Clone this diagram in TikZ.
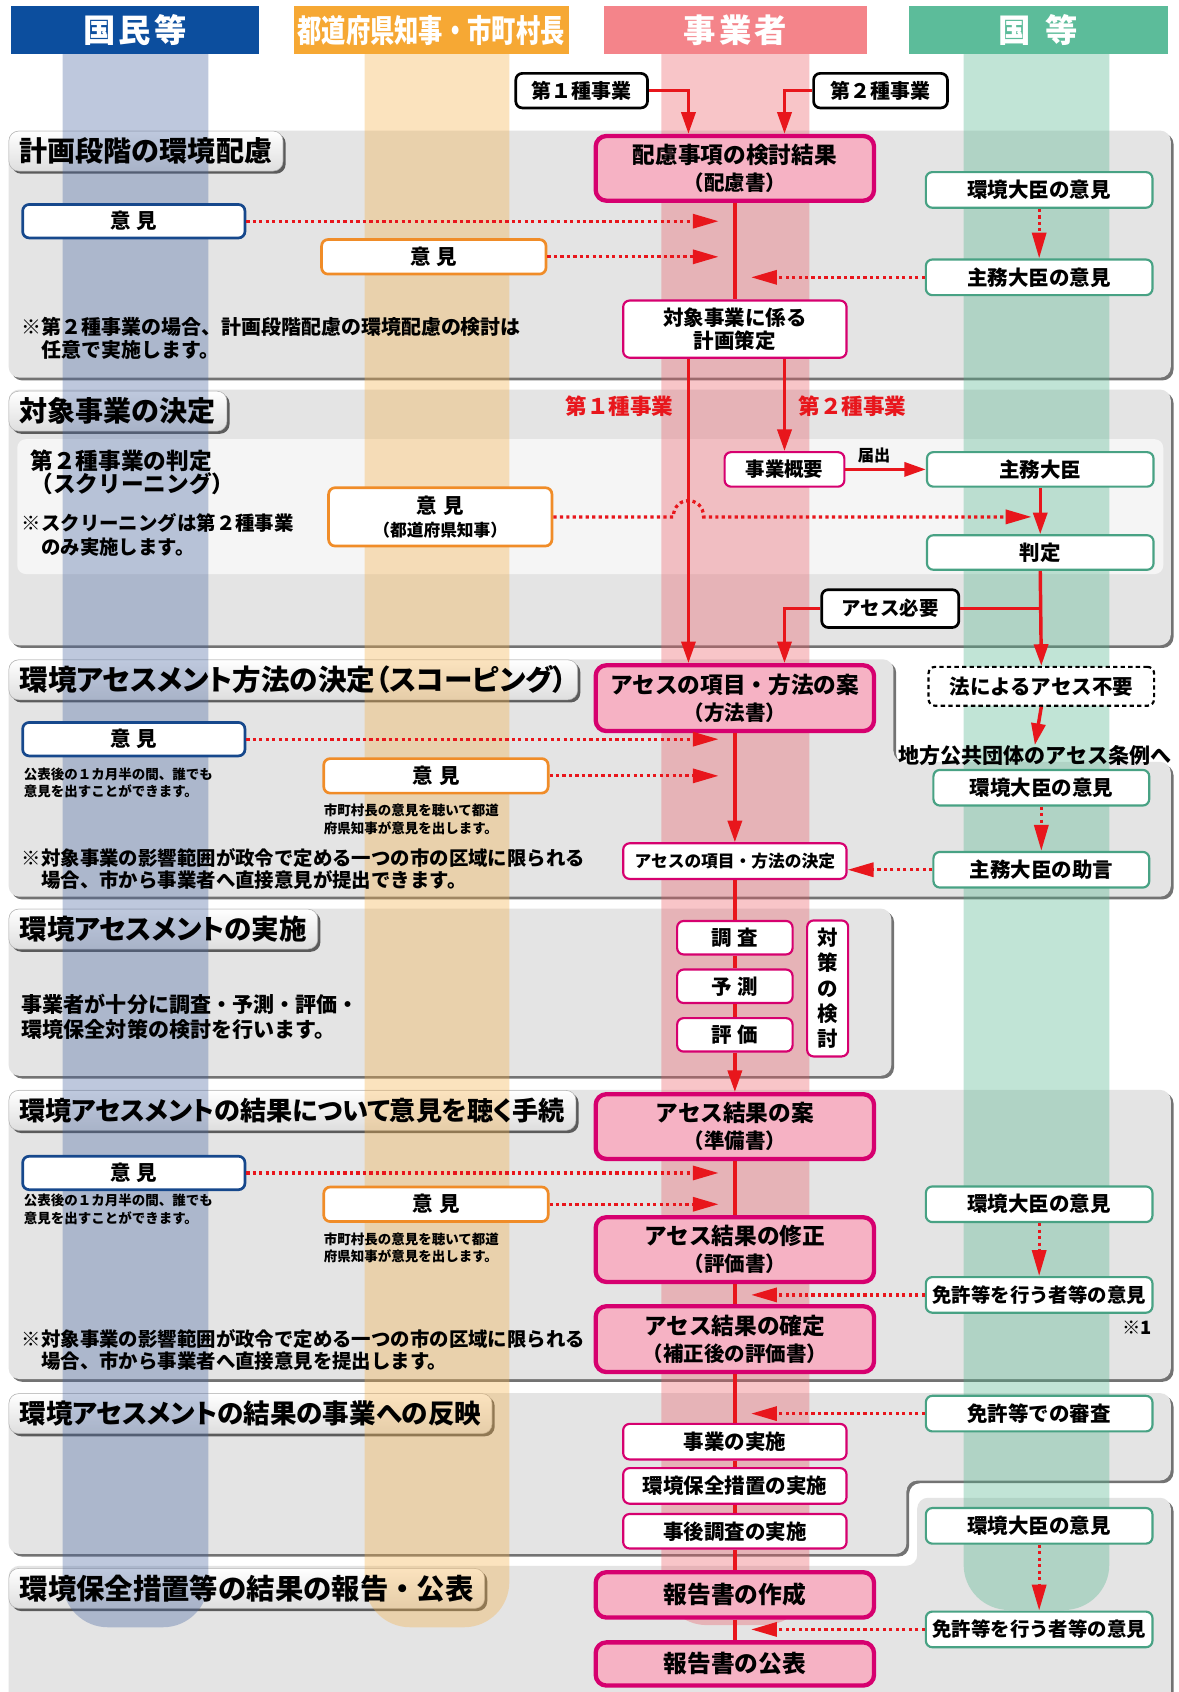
\documentclass[tikz,border=0pt]{standalone}
\usepackage{fontspec}
\setmainfont{Noto Sans CJK JP}
\newfontfamily\tfont{Noto Sans CJK JP}[RawFeature=+palt]
\usetikzlibrary{arrows.meta,shadows}
\definecolor{cRed}{RGB}{232,22,28}
\definecolor{cMag}{RGB}{214,0,111}
\definecolor{cPinkFill}{RGB}{246,178,196}
\definecolor{cBlue}{RGB}{22,72,140}
\definecolor{cOrange}{RGB}{240,140,40}
\definecolor{cGreen}{RGB}{72,162,132}
\definecolor{cPanel}{RGB}{228,228,228}
\definecolor{cInner}{RGB}{245,245,245}
\definecolor{hBlue}{RGB}{12,78,158}
\definecolor{hOrange}{RGB}{246,168,52}
\definecolor{hPink}{RGB}{244,132,138}
\definecolor{hGreen}{RGB}{92,188,154}
\definecolor{bBlue}{RGB}{70,100,160}
\definecolor{bOrange}{RGB}{245,175,70}
\definecolor{bPink}{RGB}{235,90,100}
\definecolor{bGreen}{RGB}{80,180,140}
\newcommand\fs[2]{\fontsize{#1}{#2}\selectfont}
\newcommand\gap{\hspace{.3em}}
\tikzset{
 bx/.style={rounded corners=6pt, inner sep=0pt, align=center, font=\bfseries},
 hdr/.style={bx, rounded corners=0pt, text=white, minimum height=44pt},
 thickbox/.style={bx, draw=cMag, line width=4pt, fill=cPinkFill, rounded corners=10pt, minimum width=258pt, font=\bfseries\fs{21}{25}},
 thinbox/.style={bx, draw=cMag, line width=2pt, fill=white, font=\bfseries\fs{19}{22}},
 bluebox/.style={bx, draw=cBlue, line width=2.5pt, fill=white, minimum width=206pt, minimum height=31pt, font=\bfseries\fs{19}{19}},
 orgbox/.style={bx, draw=cOrange, line width=2.5pt, fill=white, minimum width=208pt, minimum height=32pt, font=\bfseries\fs{19}{21}},
 grnbox/.style={bx, draw=cGreen, line width=2pt, fill=white, minimum width=210pt, minimum height=33pt, font=\bfseries\fs{19}{19}},
 blkbox/.style={bx, draw=black, line width=2.5pt, fill=white, font=\bfseries\fs{18.5}{18.5}},
 dashbox/.style={bx, draw=black, line width=2pt, dash pattern=on 4pt off 3pt, fill=white, font=\bfseries\fs{19}{19}},
 flow/.style={draw=cRed, line width=3.2pt},
 flowar/.style={flow, -{Triangle[length=20pt,width=13pt]}},
 dotar/.style={draw=cRed, line width=3pt, dash pattern=on 3pt off 3pt, -{Triangle[length=24pt,width=13pt]}},
 panel/.style={fill=cPanel, rounded corners=10pt, drop shadow={shadow xshift=2.5pt, shadow yshift=-2.5pt, fill=black, opacity=.55}},
 tabbox/.style={anchor=west, inner xsep=10pt, inner ysep=0pt, minimum height=37pt, rounded corners=9pt, top color=white, bottom color=black!13, draw=black!30, line width=.5pt, drop shadow={shadow xshift=2.5pt, shadow yshift=-2.5pt, fill=black, opacity=.6}, text opacity=0},
 tabtext/.style={anchor=west, inner xsep=10pt, inner ysep=0pt, minimum height=37pt},
 note/.style={anchor=north west, inner sep=0pt, align=left},
 band/.style={opacity=.35, rounded corners=42pt},
}
\begin{document}
\begin{tikzpicture}[x=1pt,y=-1pt]
\path[use as bounding box] (0,0) rectangle (1092,1568);
\clip (0,0) rectangle (1092,1568);
\fill[white] (0,0) rectangle (1092,1568);

% ---------- panels
\path[panel] (8,121) rectangle (1085,350);
\path[panel] (8,361) rectangle (1085,598);
\fill[cInner, rounded corners=8pt] (16,407) rectangle (1078,532);
\path[panel] (8,611) -- (828,611) -- (828,706) -- (1085,706) -- (1085,831) -- (8,831) -- cycle;
\path[panel] (8,842) rectangle (826,997);
\path[panel] (8,1010) rectangle (1085,1278);
\path[panel] (8,1291) -- (1085,1291) -- (1085,1372) -- (840,1372) -- (840,1440) -- (8,1440) -- cycle;
\path[panel] (8,1451) -- (850,1451) -- (850,1388) -- (1085,1388) -- (1085,1600) -- (8,1600) -- cycle;

% ---------- title tabs (shapes)
\node[tabbox, font=\bfseries\fs{26}{26}] at (8,140) {計画段階の環境配慮};
\node[tabbox, font=\bfseries\fs{26}{26}] at (8,381) {対象事業の決定};
\node[tabbox, font=\tfont\bfseries\fs{26.5}{26.5}] at (8,630) {環境アセスメント方法の決定（スコーピング）};
\node[tabbox, font=\tfont\bfseries\fs{25.5}{25.5}] at (8,861) {環境アセスメントの実施};
\node[tabbox, font=\tfont\bfseries\fs{24.2}{24.2}] at (8,1029) {環境アセスメントの結果について意見を聴く手続};
\node[tabbox, font=\tfont\bfseries\fs{24.6}{24.6}] at (8,1310) {環境アセスメントの結果の事業への反映};
\node[tabbox, font=\bfseries\fs{26.3}{26.3}] at (8,1472) {環境保全措置等の結果の報告・公表};

% ---------- lane bands
\fill[bBlue, band] (58,8) rectangle (193,1508);
\fill[bOrange, band] (338,8) rectangle (472,1508);
\fill[bPink, band] (613,8) rectangle (750,1506);
\fill[bGreen, band] (893,8) rectangle (1028,1492);

% ---------- header
\node[hdr, fill=hBlue, minimum width=230pt, font=\bfseries\fs{30}{30}] (hA) at (125,28) {国\hspace{.1em}民\hspace{.1em}等};
\node[hdr, fill=hOrange, minimum width=255pt, font=\bfseries\fs{22.5}{22.5}] (hB) at (399.5,28) {\scalebox{1}[1.3]{都道府県知事・市町村長}};
\node[hdr, fill=hPink, minimum width=243pt, font=\bfseries\fs{30}{30}] (hC) at (681.5,28) {事\hspace{.1em}業\hspace{.1em}者};
\node[hdr, fill=hGreen, minimum width=240pt, font=\bfseries\fs{30}{30}] (hD) at (962,28) {国\hspace{.45em}等};

% ---------- title texts
\node[tabtext, font=\bfseries\fs{26}{26}] (ttl1) at (8,140) {計画段階の環境配慮};
\node[tabtext, font=\bfseries\fs{26}{26}] (ttl2) at (8,381) {対象事業の決定};
\node[tabtext, font=\tfont\bfseries\fs{26.5}{26.5}] (ttl3) at (8,630) {環境アセスメント方法の決定（スコーピング）};
\node[tabtext, font=\tfont\bfseries\fs{25.5}{25.5}] (ttl4) at (8,861) {環境アセスメントの実施};
\node[tabtext, font=\tfont\bfseries\fs{24.2}{24.2}] (ttl5) at (8,1029) {環境アセスメントの結果について意見を聴く手続};
\node[tabtext, font=\tfont\bfseries\fs{24.6}{24.6}] (ttl6) at (8,1310) {環境アセスメントの結果の事業への反映};
\node[tabtext, font=\bfseries\fs{26.3}{26.3}] (ttl7) at (8,1472) {環境保全措置等の結果の報告・公表};

% ---------- notes
\node[note, font=\bfseries\fs{18.5}{21}] (n1) at (20,294) {※第２種事業の場合、計画段階配慮の環境配慮の検討は\\\hspace*{1em}任意で実施します。};
\node[note, font=\bfseries\fs{21}{21}] (n2a) at (28,417) {第２種事業の判定\\（スクリーニング）};
\node[note, font=\bfseries\fs{18}{22}] (n2b) at (20,476) {※スクリーニングは第２種事業\\\hspace*{1em}のみ実施します。};
\node[note, font=\bfseries\fs{12.5}{16.5}] (n3a) at (22,711) {公表後の１カ月半の間、誰でも\\意見を出すことができます。};
\node[note, font=\bfseries\fs{12.5}{16.5}] (n3b) at (300,745) {市町村長の意見を聴いて都道\\府県知事が意見を出します。};
\node[note, font=\bfseries\fs{18}{20}] (n3c) at (20,786) {※対象事業の影響範囲が政令で定める一つの市の区域に限られる\\\hspace*{1em}場合、市から事業者へ直接意見が提出できます。};
\node[note, font=\bfseries\fs{19.5}{23}] (n4) at (20,921) {事業者が十分に調査・予測・評価・\\環境保全対策の検討を行います。};
\node[note, font=\bfseries\fs{12.5}{16.5}] (n5a) at (22,1106) {公表後の１カ月半の間、誰でも\\意見を出すことができます。};
\node[note, font=\bfseries\fs{12.5}{16.5}] (n5b) at (300,1142) {市町村長の意見を聴いて都道\\府県知事が意見を出します。};
\node[note, font=\bfseries\fs{18}{20}] (n5c) at (20,1232) {※対象事業の影響範囲が政令で定める一つの市の区域に限られる\\\hspace*{1em}場合、市から事業者へ直接意見を提出します。};
\node[font=\bfseries\fs{17}{17}, inner sep=0pt] (kome1) at (1054,1230) {※1};

% ---------- top boxes
\node[blkbox, minimum width=122pt, minimum height=32pt] (t1) at (539,84) {第１種事業};
\node[blkbox, minimum width=124pt, minimum height=32pt] (t2) at (816,84) {第２種事業};

% ---------- section 1
\node[thickbox, minimum height=60pt] (hairyo) at (681,156) {配慮事項の検討結果\\\fs{19}{25}（配慮書）};
\node[bluebox] (ikenB1) at (124,205) {意\gap 見};
\node[orgbox] (ikenO1) at (402,238) {意\gap 見};
\node[grnbox] (kanA1) at (963,176) {環境大臣の意見};
\node[grnbox] (shumu1) at (963,257) {主務大臣の意見};
\node[thinbox, minimum width=207pt, minimum height=53pt] (keikaku) at (681,305) {対象事業に係る\\計画策定};

% ---------- section 2
\node[text=cRed, font=\bfseries\fs{20}{20}, inner sep=0pt] (lab1) at (574,376) {第１種事業};
\node[text=cRed, font=\bfseries\fs{20}{20}, inner sep=0pt] (lab2) at (790,376) {第２種事業};
\node[thinbox, minimum width=111pt, minimum height=32pt, font=\bfseries\fs{18}{18}] (gaiyo) at (727,435) {事業概要};
\node[grnbox, minimum height=32pt] (shumu2) at (964,435) {主務大臣};
\node[font=\bfseries\fs{15}{15}, inner sep=0pt] (todoke) at (810,422) {届出};
\node[orgbox, minimum width=207pt, minimum height=54pt] (ikenO2) at (408,479) {意\gap 見\\\fs{15.5}{19}（都道府県知事）};
\node[grnbox, minimum height=32pt] (hantei) at (964,512) {判定};
\node[blkbox, minimum width=127pt, minimum height=35pt, font=\bfseries\fs{18}{18}] (hitsuyo) at (825,564) {アセス必要};

% ---------- section 3
\node[thickbox, minimum height=61pt] (hoho) at (681,647) {アセスの項目・方法の案\\\fs{19}{25}（方法書）};
\node[dashbox, minimum width=209pt, minimum height=36pt] (fuyo) at (965,636) {法によるアセス不要};
\node[font=\bfseries\fs{19.5}{19.5}, inner sep=0pt] (jorei) at (959,700) {地方公共団体のアセス条例へ};
\node[bluebox] (ikenB3) at (124,685) {意\gap 見};
\node[orgbox] (ikenO3) at (404,719) {意\gap 見};
\node[thinbox, minimum width=207pt, minimum height=33pt, font=\bfseries\fs{15.5}{15.5}] (kettei) at (681,798) {アセスの項目・方法の決定};
\node[grnbox, minimum width=200pt] (kanA3) at (965,730) {環境大臣の意見};
\node[grnbox, minimum width=200pt] (jogen) at (965,806) {主務大臣の助言};

% ---------- section 4
\node[thinbox, minimum width=107pt, minimum height=31pt] (chosa) at (681,869) {調\gap 査};
\node[thinbox, minimum width=107pt, minimum height=31pt] (yosoku) at (681,914) {予\gap 測};
\node[thinbox, minimum width=107pt, minimum height=31pt] (hyoka) at (681,959) {評\gap 価};
\node[thinbox, minimum width=38pt, minimum height=126pt, font=\bfseries\fs{19}{23.5}] (taisaku) at (767,916) {対\\策\\の\\検\\討};

% ---------- section 5
\node[thickbox, minimum height=60pt] (junbi) at (681,1044) {アセス結果の案\\\fs{19}{25}（準備書）};
\node[bluebox] (ikenB5) at (124,1087) {意\gap 見};
\node[orgbox] (ikenO5) at (404,1116) {意\gap 見};
\node[thickbox, minimum height=60pt] (hyokasho) at (681,1158) {アセス結果の修正\\\fs{19}{25}（評価書）};
\node[grnbox] (kanA5) at (963,1116) {環境大臣の意見};
\node[grnbox, font=\bfseries\fs{18}{18}] (menkyo5) at (963,1200) {免許等を行う者等の意見};
\node[thickbox, minimum height=61pt] (kakutei) at (681,1241) {アセス結果の確定\\\fs{19}{25}（補正後の評価書）};

% ---------- section 6
\node[grnbox] (shinsa) at (963,1310) {免許等での審査};
\node[thinbox, minimum width=207pt, minimum height=33pt] (jisshi) at (681,1336) {事業の実施};
\node[thinbox, minimum width=207pt, minimum height=33pt] (hozen) at (681,1377) {環境保全措置の実施};
\node[thinbox, minimum width=207pt, minimum height=32pt] (jigo) at (681,1419) {事後調査の実施};

% ---------- section 7
\node[grnbox] (kanA7) at (963,1414) {環境大臣の意見};
\node[grnbox, font=\bfseries\fs{18}{18}] (menkyo7) at (963,1510) {免許等を行う者等の意見};
\node[thickbox, minimum height=42pt, font=\bfseries\fs{22}{22}] (sakusei) at (681,1478) {報告書の作成};
\node[thickbox, minimum height=40pt, font=\bfseries\fs{22}{22}] (kohyo) at (681,1542) {報告書の公表};

% ---------- coordinates
\coordinate (L1) at (638,0);
\coordinate (L2) at (727,0);
\coordinate (a1) at (666,205);
\coordinate (a2) at (666,238);
\coordinate (a3) at (696,257);
\coordinate (hop) at (956,479);
\coordinate (a4) at (666,685);
\coordinate (a5) at (666,719);
\coordinate (a6) at (666,1087);
\coordinate (a7) at (666,1116);
\coordinate (a8) at (696,1200);
\coordinate (a9) at (696,1310);
\coordinate (a10) at (696,1510);

% ---------- connectors: main flow
\draw[flowar] (t1.east) -| (L1 |- hairyo.north);
\draw[flowar] (t2.west) -| (L2 |- hairyo.north);
\draw[flow] (hairyo.south) -- (keikaku.north);
\draw[flowar] (L1 |- keikaku.south) -- (L1 |- hoho.north);
\draw[flowar] (L2 |- keikaku.south) -- (gaiyo.north);
\draw[flowar] (gaiyo.east) -- (shumu2.west);
\draw[flowar] (shumu2.south) -- (hantei.north);
\draw[flowar] (hantei.south) -- (fuyo.north);
\draw[flow] (hantei.south |- hitsuyo.east) -- (hitsuyo.east);
\draw[flowar] (hitsuyo.west) -| (L2 |- hoho.north);
\draw[flowar] (fuyo.south) -- (jorei.north);
\draw[flowar] (hoho.south) -- (kettei.north);
\draw[flow] (kettei.south) -- (chosa.north);
\draw[flow] (chosa.south) -- (yosoku.north);
\draw[flow] (yosoku.south) -- (hyoka.north);
\draw[flowar] (hyoka.south) -- (junbi.north);
\draw[flow] (junbi.south) -- (hyokasho.north);
\draw[flow] (hyokasho.south) -- (kakutei.north);
\draw[flow] (kakutei.south) -- (jisshi.north);
\draw[flow] (jisshi.south) -- (hozen.north);
\draw[flow] (hozen.south) -- (jigo.north);
\draw[flow] (jigo.south) -- (sakusei.north);
\draw[flow] (sakusei.south) -- (kohyo.north);

% ---------- connectors: opinions (dotted)
\draw[dotar] (ikenB1.east) -- (a1);
\draw[dotar] (ikenO1.east) -- (a2);
\draw[dotar] (kanA1.south) -- (shumu1.north);
\draw[dotar] (shumu1.west) -- (a3);
\draw[dotar] (ikenO2.east) -- (624,479) .. controls (624,459) and (652,459) .. (652,479) -- (hop);
\draw[dotar] (ikenB3.east) -- (a4);
\draw[dotar] (ikenO3.east) -- (a5);
\draw[dotar] (kanA3.south) -- (jogen.north);
\draw[dotar] (jogen.west) -- (jogen.west -| kettei.east);
\draw[dotar] (ikenB5.east) -- (a6);
\draw[dotar] (ikenO5.east) -- (a7);
\draw[dotar] (kanA5.south) -- (menkyo5.north);
\draw[dotar] (menkyo5.west) -- (a8);
\draw[dotar] (shinsa.west) -- (a9);
\draw[dotar] (kanA7.south) -- (menkyo7.north);
\draw[dotar] (menkyo7.west) -- (a10);
\end{tikzpicture}
\end{document}
